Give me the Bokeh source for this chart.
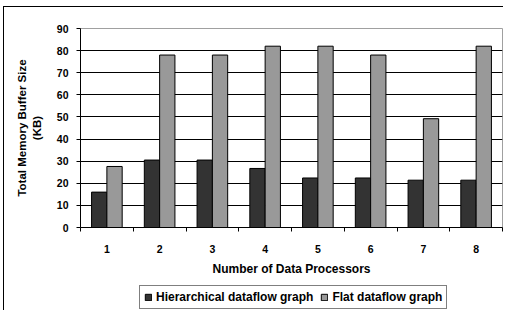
from bokeh.plotting import figure
from bokeh.layouts import column
from bokeh.models import FixedTicker
from bokeh.embed import file_html
from bokeh.resources import INLINE

# Data
processors = [1, 2, 3, 4, 5, 6, 7, 8]
hierarchical = [16, 30.5, 30.5, 26.7, 22.4, 22.4, 21.4, 21.4]
flat = [27.6, 78, 78, 82, 82, 78, 49.2, 82]
y_ticks = [0, 10, 20, 30, 40, 50, 60, 70, 80, 90]
series_names = ["Hierarchical dataflow graph", "Flat dataflow graph"]
series_colors = ["#333333", "#999999"]

FONT = "Liberation Sans"
BAR_W = 0.29

p = figure(width=503, height=284, output_backend="svg", toolbar_location=None,
           x_range=(0.5, 8.5), y_range=(0, 90),
           min_border_left=80, min_border_right=1, min_border_top=28, min_border_bottom=57)
p.background_fill_color = "white"
p.border_fill_color = None
p.outline_line_color = "#a0a0a0"
p.outline_line_width = 1

x_dark = [x - BAR_W / 2 for x in processors]
x_gray = [x + BAR_W / 2 for x in processors]
p.vbar(x=x_dark, top=hierarchical, width=BAR_W, bottom=0,
       fill_color=series_colors[0], line_color="black", line_width=1)
p.vbar(x=x_gray, top=flat, width=BAR_W, bottom=0,
       fill_color=series_colors[1], line_color="black", line_width=1)

# Grid
p.xgrid.visible = False
p.ygrid.ticker = FixedTicker(ticks=y_ticks[1:-1])
p.ygrid.grid_line_color = "black"
p.ygrid.grid_line_width = 1

# Y axis
ya = p.yaxis[0]
ya.ticker = FixedTicker(ticks=y_ticks)
ya.axis_line_color = "black"
ya.major_tick_line_color = "black"
ya.major_tick_in = 0
ya.major_tick_out = 4
ya.minor_tick_line_color = None
ya.major_label_standoff = 8
ya.major_label_text_font = FONT
ya.major_label_text_font_style = "bold"
ya.major_label_text_font_size = "10.5px"
ya.major_label_text_color = "black"
ya.axis_label = "Total Memory Buffer Size\n(KB)"
ya.axis_label_text_font = FONT
ya.axis_label_text_font_style = "bold"
ya.axis_label_text_font_size = "11.5px"
ya.axis_label_text_color = "black"
ya.axis_label_standoff = 11

# X axis
xa = p.xaxis[0]
xa.ticker = FixedTicker(ticks=processors, minor_ticks=[x - 0.5 for x in processors] + [8.5])
xa.axis_line_color = "black"
xa.major_tick_line_color = None
xa.major_tick_in = 0
xa.major_tick_out = 0
xa.minor_tick_line_color = "black"
xa.minor_tick_in = 0
xa.minor_tick_out = 4
xa.major_label_standoff = 13
xa.major_label_text_font = FONT
xa.major_label_text_font_style = "bold"
xa.major_label_text_font_size = "10.5px"
xa.major_label_text_color = "black"
xa.axis_label = "Number of Data Processors"
xa.axis_label_text_font = FONT
xa.axis_label_text_font_style = "bold"
xa.axis_label_text_font_size = "12px"
xa.axis_label_text_color = "black"
xa.axis_label_standoff = 6

# Legend strip below the chart (same side borders so its frame lines up with the chart's)
pl = figure(width=503, height=26, output_backend="svg", toolbar_location=None,
            x_range=(0.5, 8.5), y_range=(500, 501), x_axis_location=None, y_axis_location=None,
            min_border_left=80, min_border_right=1, min_border_top=0, min_border_bottom=0)
pl.grid.visible = False
pl.outline_line_color = None
pl.background_fill_color = None
pl.border_fill_color = None
pl.vbar(x=x_dark, top=hierarchical, width=BAR_W, bottom=0, fill_color=series_colors[0],
        line_color="black", line_width=1, legend_label=series_names[0])
pl.vbar(x=x_gray, top=flat, width=BAR_W, bottom=0, fill_color=series_colors[1],
        line_color="black", line_width=1, legend_label=series_names[1])

lg = pl.legend[0]
lg.orientation = "horizontal"
lg.location = (59, 1)
lg.border_line_color = "black"
lg.border_line_width = 1
lg.background_fill_color = "white"
lg.background_fill_alpha = 1
lg.label_text_font = FONT
lg.label_text_font_style = "bold"
lg.label_text_font_size = "12px"
lg.label_text_color = "black"
lg.glyph_width = 8
lg.glyph_height = 8
lg.label_standoff = 4
lg.label_height = 14
lg.spacing = 7
lg.padding = 4
lg.margin = 0

layout = column(p, pl, spacing=0)
layout.styles = {
    "background-color": "#fff",
    "background-image": "linear-gradient(#000, #000), linear-gradient(#000, #000)",
    "background-repeat": "no-repeat, no-repeat",
    "background-position": "3px 6px, 3px 6px",
    "background-size": "1px 400px, 600px 1px",
}

open("out.html", "w").write(file_html(layout, INLINE))
